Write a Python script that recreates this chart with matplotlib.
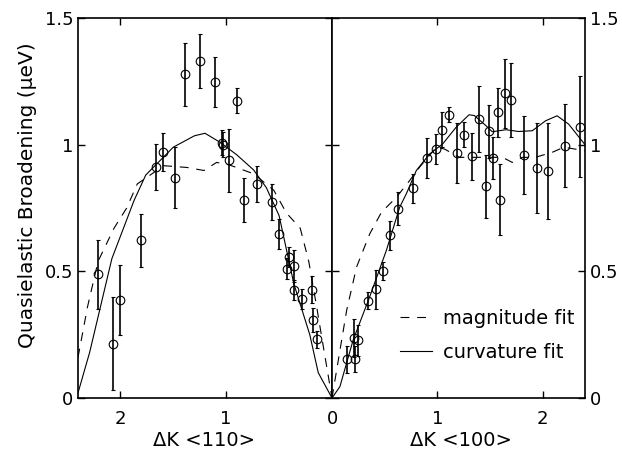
import matplotlib.pyplot as plt

plt.rcParams['font.family'] = ['DejaVu Sans']

# <110> direction (left panel, K runs from right to left)
k110 = [2.211, 2.072, 2.006, 1.802, 1.667, 1.594, 1.487, 1.387, 1.245, 1.110, 1.038, 1.030,
        0.969, 0.896, 0.827, 0.704, 0.566, 0.503, 0.425, 0.409, 0.362, 0.358, 0.283, 0.192,
        0.176, 0.139]
g110 = [0.489, 0.215, 0.387, 0.622, 0.911, 0.971, 0.870, 1.277, 1.329, 1.248, 1.008, 1.000,
        0.938, 1.174, 0.782, 0.845, 0.774, 0.647, 0.511, 0.556, 0.427, 0.521, 0.392, 0.427,
        0.307, 0.231]
e110 = [0.136, 0.185, 0.137, 0.106, 0.090, 0.074, 0.120, 0.125, 0.106, 0.100, 0.050, 0.050,
        0.125, 0.049, 0.086, 0.070, 0.070, 0.060, 0.040, 0.040, 0.040, 0.065, 0.040, 0.053,
        0.047, 0.032]

# <100> direction (right panel)
k100 = [0.145, 0.214, 0.208, 0.245, 0.343, 0.415, 0.481, 0.550, 0.626, 0.767, 0.899, 0.984,
        1.044, 1.113, 1.182, 1.252, 1.327, 1.393, 1.465, 1.494, 1.531, 1.572, 1.597, 1.638,
        1.698, 1.818, 1.947, 2.047, 2.211, 2.352]
g100 = [0.152, 0.155, 0.236, 0.227, 0.384, 0.430, 0.501, 0.642, 0.747, 0.828, 0.947, 0.982,
        1.059, 1.118, 0.967, 1.039, 0.954, 1.102, 0.835, 1.052, 0.947, 1.127, 0.783, 1.202,
        1.177, 0.959, 0.907, 0.895, 0.996, 1.071]
e100 = [0.052, 0.052, 0.074, 0.063, 0.034, 0.077, 0.037, 0.057, 0.065, 0.058, 0.080, 0.060,
        0.070, 0.030, 0.120, 0.050, 0.093, 0.130, 0.125, 0.105, 0.083, 0.097, 0.140, 0.136,
        0.145, 0.155, 0.178, 0.190, 0.163, 0.200]

# fits, <110>
fk110 = [2.40, 2.29, 2.08, 1.87, 1.76, 1.50, 1.30, 1.20, 1.06, 0.90, 0.74, 0.62, 0.50,
         0.36, 0.21, 0.13, 0.0]
curv110 = [0.02, 0.18, 0.55, 0.78, 0.88, 0.99, 1.035, 1.045, 1.01, 0.96, 0.90, 0.83, 0.72,
           0.45, 0.25, 0.10, 0.0]
mk110 = [2.40, 2.31, 2.21, 2.06, 1.94, 1.84, 1.59, 1.37, 1.21, 1.09, 0.97, 0.74, 0.55,
         0.43, 0.30, 0.22, 0.145, 0.066, 0.0]
mag110 = [0.16, 0.36, 0.54, 0.67, 0.75, 0.845, 0.917, 0.91, 0.898, 0.93, 0.92, 0.885, 0.82,
          0.73, 0.67, 0.54, 0.36, 0.163, 0.0]

# fits, <100>
fk100 = [0.0, 0.075, 0.20, 0.358, 0.516, 0.642, 0.705, 0.80, 0.925, 1.05, 1.176, 1.30, 1.35,
         1.46, 1.52, 1.65, 1.77, 1.90, 2.025, 2.135, 2.245, 2.40]
curv100 = [0.0, 0.045, 0.228, 0.40, 0.583, 0.753, 0.806, 0.898, 0.963, 1.003, 1.068, 1.118,
           1.115, 1.075, 1.051, 1.059, 1.052, 1.055, 1.094, 1.114, 1.081, 1.0]
mk100 = [0.0, 0.06, 0.139, 0.233, 0.358, 0.469, 0.61, 0.736, 0.83, 0.988, 1.066, 1.21, 1.365,
         1.49, 1.617, 1.71, 1.805, 1.93, 2.09, 2.20, 2.40]
mag100 = [0.0, 0.15, 0.346, 0.517, 0.648, 0.733, 0.792, 0.858, 0.911, 0.989, 0.983, 0.95,
          0.95, 0.95, 0.95, 0.93, 0.95, 0.95, 0.97, 0.99, 0.976]

W, H = 622, 453
fig = plt.figure(figsize=(W / 100, H / 100), dpi=100)
ax1 = fig.add_axes([78 / W, 55 / H, 254 / W, 380 / H])
ax2 = fig.add_axes([332 / W, 55 / H, 253 / W, 380 / H])

eb = dict(fmt='o', ms=6.2, mfc='none', mec='k', mew=0.8, ecolor='k', elinewidth=1.2,
          capsize=1.7, capthick=1.2)
dash = (8, 7)

ax1.plot(mk110, mag110, color='k', lw=0.8, dashes=dash)
ax1.plot(fk110, curv110, color='k', lw=0.8)
ax1.errorbar(k110, g110, yerr=e110, **eb)

ax2.plot(mk100, mag100, color='k', lw=0.8, dashes=dash, label='magnitude fit')
ax2.plot(fk100, curv100, color='k', lw=0.8, label='curvature fit')
ax2.errorbar(k100, g100, yerr=e100, **eb)

ax1.set_xlim(2.4, 0)
ax2.set_xlim(0, 2.4)
ax1.set_xticks([2, 1, 0])
ax1.set_xticklabels(['2', '1', '0'])
ax2.set_xticks([1, 2])
ax2.set_xticklabels(['1', '2'])

for ax in (ax1, ax2):
    ax.set_ylim(0, 1.5)
    ax.set_yticks([0, 0.5, 1, 1.5])
    ax.set_yticklabels(['0', '0.5', '1', '1.5'])
    ax.tick_params(direction='in', top=True, right=True, left=True, labelsize=13,
                   length=5, width=1)
    ax.tick_params(axis='x', pad=9)
    ax.tick_params(axis='y', pad=3.5)
    for s in ax.spines.values():
        s.set_linewidth(1.2)

ax1.tick_params(axis='y', labelleft=True, labelright=False)
ax2.tick_params(axis='y', labelleft=False, labelright=True)

ax1.set_ylabel('Quasielastic Broadening (\u03bceV)', fontsize=14.5)
ax1.yaxis.set_label_coords(-0.16, 0.535)

fig.text(204 / W, 1 - 446 / H, '\u0394K <110>', ha='center', va='baseline', fontsize=14)
fig.text(461 / W, 1 - 446 / H, '\u0394K <100>', ha='center', va='baseline', fontsize=14)

ax2.legend(loc='upper left', bbox_to_anchor=(0.269, 0.235), frameon=False, fontsize=14,
           handlelength=1.65, handletextpad=0.57, labelspacing=0.8, borderpad=0,
           borderaxespad=0)

fig.savefig('out.png', dpi=100)
